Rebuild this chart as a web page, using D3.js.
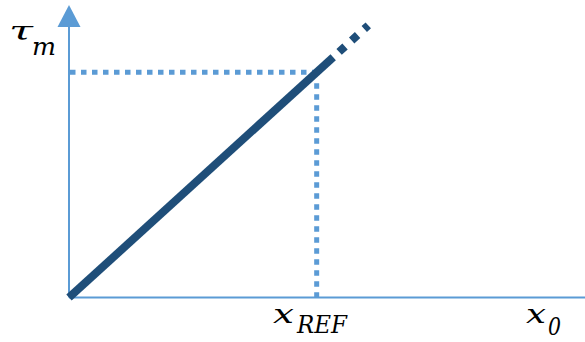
<!DOCTYPE html>
<html>
<head>
<meta charset="utf-8">
<script src="https://cdn.jsdelivr.net/npm/d3@7"></script>
<style>
  html, body { margin: 0; padding: 0; background: #fff; }
  svg { display: block; }
  text { font-family: "DejaVu Serif", serif; font-style: italic; fill: #000; }
</style>
</head>
<body>
<script>
// Axis extents (data units)
const axisX = [0, 104];
const axisY = [0, 100];

// Reference point on the proportional relation
const xRef = [48];
const tauRef = [77];

// Solid part of tau_m = k * x0, then its dashed extrapolation
const solidX = [0, 51.2];
const extX = [51.2, 58];

// Axis labels: base symbols and their subscripts
const labelBase = ["τ", "x", "x"];
const labelSub = ["m", "REF", "0"];

const W = 585, H = 342;
const x = d3.scaleLinear().domain([0, 100]).range([69, 585]);
const y = d3.scaleLinear().domain([0, 100]).range([297.5, 5]);

const slope = tauRef[0] / xRef[0];
const axisColor = "#5b9bd5";
const lineColor = "#1f4e79";

const svg = d3.select("body").append("svg").attr("width", W).attr("height", H);

// Axes
svg.append("line")
  .attr("x1", x(0)).attr("y1", y(0))
  .attr("x2", x(0)).attr("y2", y(axisY[1]) + 18)
  .attr("stroke", axisColor).attr("stroke-width", 2);
svg.append("line")
  .attr("x1", x(0)).attr("y1", y(0))
  .attr("x2", x(axisX[1]) - 20).attr("y2", y(0))
  .attr("stroke", axisColor).attr("stroke-width", 2);

// Arrowheads
const yt = [x(0), y(axisY[1])];
svg.append("path")
  .attr("d", `M${yt[0]},${yt[1]} L${yt[0] + 11.5},${yt[1] + 22} L${yt[0] - 11.5},${yt[1] + 22} Z`)
  .attr("fill", axisColor);
const xt = [x(axisX[1]), y(0)];
svg.append("path")
  .attr("d", `M${xt[0] + 2},${xt[1]} L${xt[0] - 20},${xt[1] - 11.5} L${xt[0] - 20},${xt[1] + 11.5} Z`)
  .attr("fill", axisColor);

// Dotted guides to the reference point
svg.append("line")
  .attr("x1", x(0) + 1).attr("y1", y(tauRef[0]))
  .attr("x2", x(xRef[0])).attr("y2", y(tauRef[0]))
  .attr("stroke", axisColor).attr("stroke-width", 5)
  .attr("stroke-dasharray", "5.5 5.5");
svg.append("line")
  .attr("x1", x(xRef[0])).attr("y1", y(tauRef[0]) + 11)
  .attr("x2", x(xRef[0])).attr("y2", y(0))
  .attr("stroke", axisColor).attr("stroke-width", 5)
  .attr("stroke-dasharray", "5.5 5.5");

// Proportional line
const line = d3.line().x(d => x(d)).y(d => y(slope * d));
svg.append("path")
  .attr("d", line(solidX))
  .attr("fill", "none").attr("stroke", lineColor).attr("stroke-width", 8);
svg.append("path")
  .attr("d", line(extX))
  .attr("fill", "none").attr("stroke", lineColor).attr("stroke-width", 8)
  .attr("stroke-dasharray", "8 9")
  .attr("stroke-dashoffset", -8);

// Labels (math-italic look: glyphs widened to a set advance)
const placement = [
  { b: [9, 40, 24], s: [32, 55, 24] },
  { b: [273, 323, 21], s: [297, 333, 50] },
  { b: [526, 323, 20], s: [548, 335, 13] }
];
placement.forEach((p, i) => {
  const g = svg.append("g");
  g.append("text").attr("x", p.b[0]).attr("y", p.b[1]).attr("font-size", 26)
    .attr("textLength", p.b[2]).attr("lengthAdjust", "spacingAndGlyphs").text(labelBase[i]);
  g.append("text").attr("x", p.s[0]).attr("y", p.s[1]).attr("font-size", 25)
    .attr("textLength", p.s[2]).attr("lengthAdjust", "spacingAndGlyphs").text(labelSub[i]);
});
</script>
</body>
</html>
